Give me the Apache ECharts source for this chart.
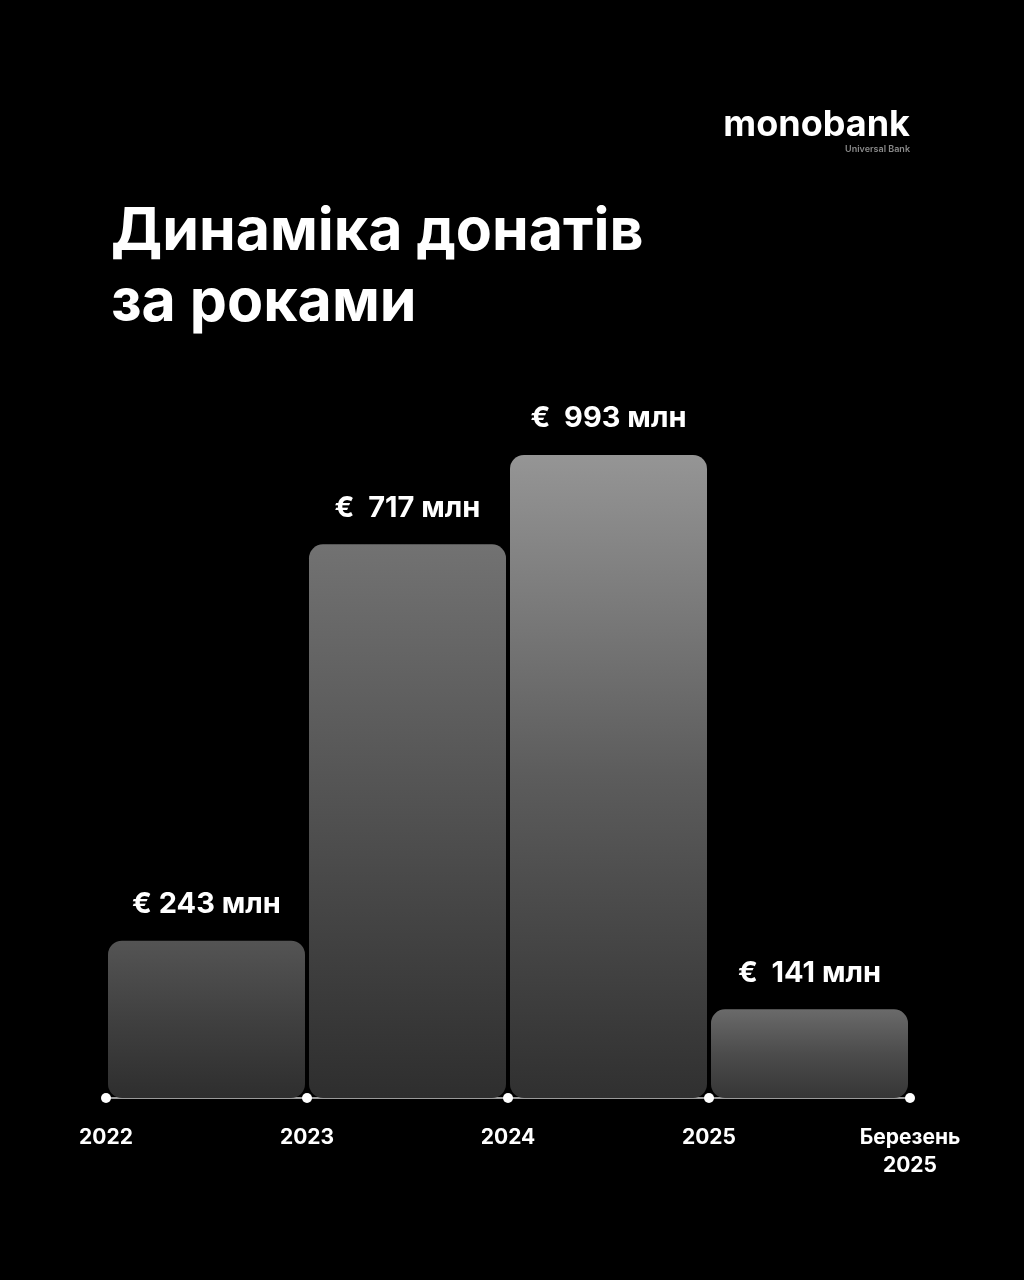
<!DOCTYPE html>
<html><head><meta charset="utf-8">
<script src="https://cdn.jsdelivr.net/npm/echarts@6/dist/echarts.min.js"></script>
<style>html,body{margin:0;padding:0;background:#000;}#c{width:1024px;height:1280px;}</style>
</head><body><div id="c"></div>
<script>
// Data
var categories = ['2022', '2023', '2024', '2025'];
var donationValues = [243, 717, 993, 141];          // € млн, as labelled
var barLevels = [243, 855, 993, 137];               // bar heights as drawn in the reference (2023 drawn taller than scale)
var tickLabels = ['2022', '2023', '2024', '2025', 'Березень\n2025'];
var tickPositions = [0, 1, 2, 3, 4];

var FONT = 'Inter, "Noto Sans", sans-serif';
var topColors = ['#545454', '#727272', '#959595', '#6a6a6a'];
var midColors = ['#404040', '#505050', '#5c5c5c', '#4c4c4c'];
var bottomColors = ['#2e2e2e', '#2e2e2e', '#303030', '#363636'];

var chart = echarts.init(document.getElementById('c'), null, {renderer: 'canvas'});
chart.setOption({
  backgroundColor: '#000',
  animation: false,
  graphic: [
    {type: 'text', right: 114, top: 107, style: {text: 'monobank', fill: '#fff', font: 'bold 36px ' + FONT, textAlign: 'right'}},
    {type: 'text', right: 114, top: 145, style: {text: 'Universal Bank', fill: '#8a8a8a', font: '600 9px ' + FONT}},
    {type: 'text', left: 111, top: 197, style: {text: 'Динаміка донатів\nза роками', fill: '#fff', font: 'bold 59px ' + FONT, lineHeight: 71}}
  ],
  grid: {left: 106, right: 114, top: 455, bottom: 182, containLabel: false},
  xAxis: [
    {type: 'category', data: categories, show: false, boundaryGap: true},
    {type: 'value', min: 0, max: 4, interval: 1, position: 'bottom',
     axisLine: {show: true, lineStyle: {color: '#9a9a9a', width: 2}},
     axisTick: {show: false}, splitLine: {show: false},
     axisLabel: {color: '#fff', fontFamily: FONT, fontWeight: 'bold', fontSize: 21, lineHeight: 28, margin: 26,
       formatter: function (v) { var i = tickPositions.indexOf(v); return i >= 0 ? tickLabels[i] : ''; }}}
  ],
  yAxis: {type: 'value', min: 0, max: 993, show: false},
  series: [
    {type: 'bar', xAxisIndex: 0, barWidth: 197,
     data: barLevels.map(function (v, i) {
       return {value: v, itemStyle: {borderRadius: 14, color: new echarts.graphic.LinearGradient(0, 0, 0, 1, [
         {offset: 0, color: topColors[i]}, {offset: 0.5, color: midColors[i]}, {offset: 1, color: bottomColors[i]}])}};
     }),
     label: {show: true, position: 'top', distance: 22, color: '#fff', fontFamily: FONT, fontWeight: 'bold', fontSize: 29,
       formatter: function (p) { var v = donationValues[p.dataIndex]; return (v === 243 ? '€ ' : '€  ') + v + ' млн'; }},
     z: 2},
    {type: 'scatter', xAxisIndex: 1, symbol: 'circle', symbolSize: 10, clip: false,
     itemStyle: {color: '#ffffff', opacity: 1}, z: 5,
     data: tickPositions.map(function (p) { return [p, 0]; })}
  ]
});
</script></body></html>
